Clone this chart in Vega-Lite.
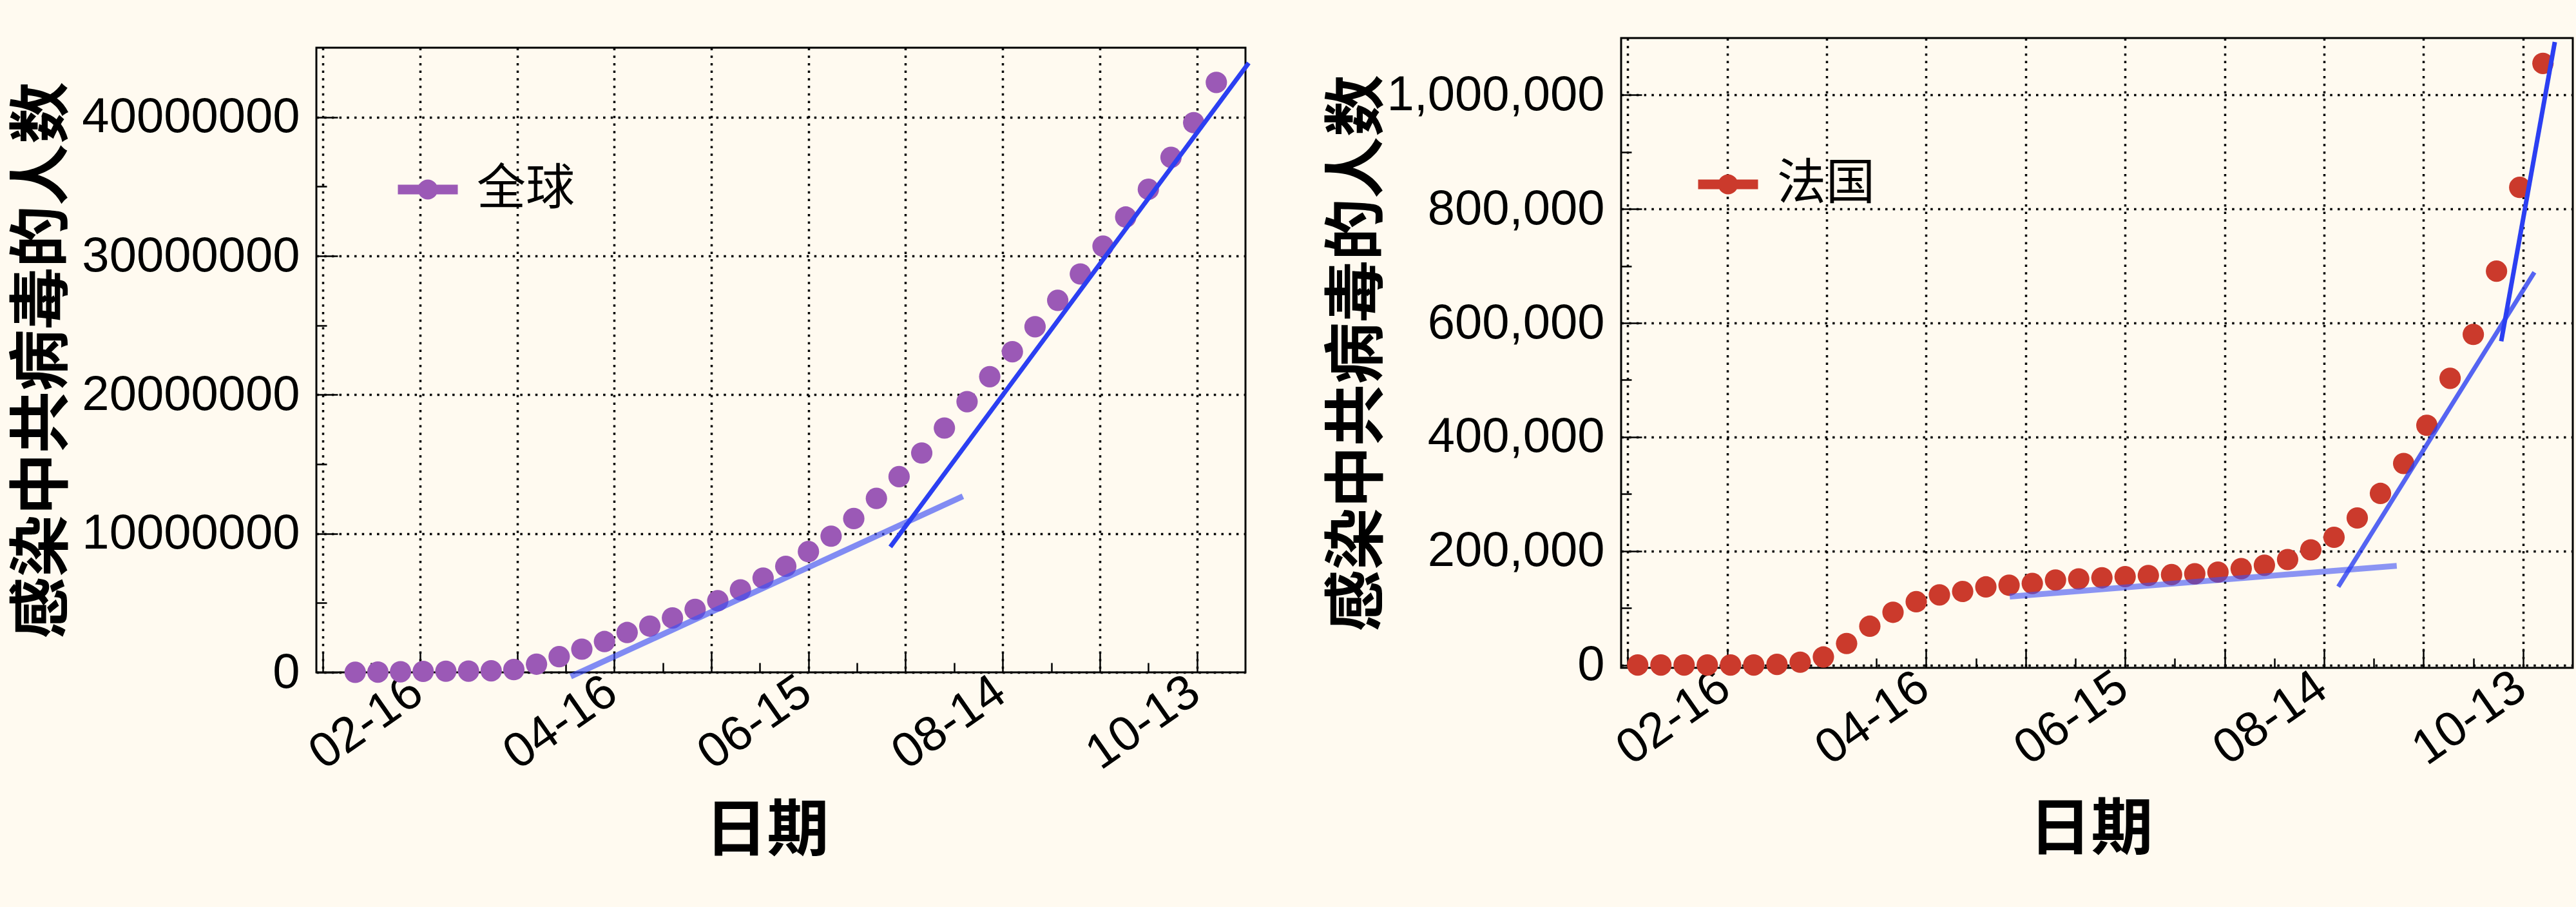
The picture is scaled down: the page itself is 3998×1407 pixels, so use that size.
{
  "$schema": "https://vega.github.io/schema/vega-lite/v6.json",
  "background": "#fffaf0",
  "padding": {"left": 16, "top": 49, "right": 20, "bottom": 68},
  "spacing": 103,
  "config": {"view": {"stroke": "black", "strokeWidth": 3}},
  "resolve": {"scale": {"color": "independent"}, "legend": {"color": "independent"}},
  "datasets": {
    "world": [
      {"date": "2020-01-27", "cases": 3000, "region": "全球"},
      {"date": "2020-02-03", "cases": 20000, "region": "全球"},
      {"date": "2020-02-10", "cases": 43000, "region": "全球"},
      {"date": "2020-02-17", "cases": 71000, "region": "全球"},
      {"date": "2020-02-24", "cases": 80000, "region": "全球"},
      {"date": "2020-03-02", "cases": 90000, "region": "全球"},
      {"date": "2020-03-09", "cases": 112000, "region": "全球"},
      {"date": "2020-03-16", "cases": 200000, "region": "全球"},
      {"date": "2020-03-23", "cases": 590000, "region": "全球"},
      {"date": "2020-03-30", "cases": 1130000, "region": "全球"},
      {"date": "2020-04-06", "cases": 1670000, "region": "全球"},
      {"date": "2020-04-13", "cases": 2220000, "region": "全球"},
      {"date": "2020-04-20", "cases": 2870000, "region": "全球"},
      {"date": "2020-04-27", "cases": 3330000, "region": "全球"},
      {"date": "2020-05-04", "cases": 3920000, "region": "全球"},
      {"date": "2020-05-11", "cases": 4540000, "region": "全球"},
      {"date": "2020-05-18", "cases": 5160000, "region": "全球"},
      {"date": "2020-05-25", "cases": 5940000, "region": "全球"},
      {"date": "2020-06-01", "cases": 6790000, "region": "全球"},
      {"date": "2020-06-08", "cases": 7640000, "region": "全球"},
      {"date": "2020-06-15", "cases": 8700000, "region": "全球"},
      {"date": "2020-06-22", "cases": 9810000, "region": "全球"},
      {"date": "2020-06-29", "cases": 11080000, "region": "全球"},
      {"date": "2020-07-06", "cases": 12530000, "region": "全球"},
      {"date": "2020-07-13", "cases": 14100000, "region": "全球"},
      {"date": "2020-07-20", "cases": 15800000, "region": "全球"},
      {"date": "2020-07-27", "cases": 17600000, "region": "全球"},
      {"date": "2020-08-03", "cases": 19500000, "region": "全球"},
      {"date": "2020-08-10", "cases": 21300000, "region": "全球"},
      {"date": "2020-08-17", "cases": 23100000, "region": "全球"},
      {"date": "2020-08-24", "cases": 24900000, "region": "全球"},
      {"date": "2020-08-31", "cases": 26800000, "region": "全球"},
      {"date": "2020-09-07", "cases": 28700000, "region": "全球"},
      {"date": "2020-09-14", "cases": 30700000, "region": "全球"},
      {"date": "2020-09-21", "cases": 32800000, "region": "全球"},
      {"date": "2020-09-28", "cases": 34800000, "region": "全球"},
      {"date": "2020-10-05", "cases": 37100000, "region": "全球"},
      {"date": "2020-10-12", "cases": 39600000, "region": "全球"},
      {"date": "2020-10-19", "cases": 42500000, "region": "全球"}
    ],
    "world_fit": [
      {"seg": "a", "date": "2020-04-02T14:00:00Z", "cases": -300000},
      {"seg": "a", "date": "2020-08-01T17:00:00Z", "cases": 12680000},
      {"seg": "b", "date": "2020-07-10T07:00:00Z", "cases": 9040000},
      {"seg": "b", "date": "2020-10-29T00:00:00Z", "cases": 43900000}
    ],
    "france": [
      {"date": "2020-01-20", "cases": 0, "region": "法国"},
      {"date": "2020-01-27", "cases": 3, "region": "法国"},
      {"date": "2020-02-03", "cases": 6, "region": "法国"},
      {"date": "2020-02-10", "cases": 11, "region": "法国"},
      {"date": "2020-02-17", "cases": 12, "region": "法国"},
      {"date": "2020-02-24", "cases": 12, "region": "法国"},
      {"date": "2020-03-02", "cases": 1100, "region": "法国"},
      {"date": "2020-03-09", "cases": 4900, "region": "法国"},
      {"date": "2020-03-16", "cases": 14000, "region": "法国"},
      {"date": "2020-03-23", "cases": 37700, "region": "法国"},
      {"date": "2020-03-30", "cases": 68000, "region": "法国"},
      {"date": "2020-04-06", "cases": 92500, "region": "法国"},
      {"date": "2020-04-13", "cases": 111000, "region": "法国"},
      {"date": "2020-04-20", "cases": 123000, "region": "法国"},
      {"date": "2020-04-27", "cases": 129000, "region": "法国"},
      {"date": "2020-05-04", "cases": 137000, "region": "法国"},
      {"date": "2020-05-11", "cases": 140000, "region": "法国"},
      {"date": "2020-05-18", "cases": 143000, "region": "法国"},
      {"date": "2020-05-25", "cases": 149000, "region": "法国"},
      {"date": "2020-06-01", "cases": 151000, "region": "法国"},
      {"date": "2020-06-08", "cases": 153000, "region": "法国"},
      {"date": "2020-06-15", "cases": 155000, "region": "法国"},
      {"date": "2020-06-22", "cases": 157000, "region": "法国"},
      {"date": "2020-06-29", "cases": 158500, "region": "法国"},
      {"date": "2020-07-06", "cases": 160000, "region": "法国"},
      {"date": "2020-07-13", "cases": 163000, "region": "法国"},
      {"date": "2020-07-20", "cases": 169000, "region": "法国"},
      {"date": "2020-07-27", "cases": 175000, "region": "法国"},
      {"date": "2020-08-03", "cases": 185000, "region": "法国"},
      {"date": "2020-08-10", "cases": 202000, "region": "法国"},
      {"date": "2020-08-17", "cases": 224000, "region": "法国"},
      {"date": "2020-08-24", "cases": 258000, "region": "法国"},
      {"date": "2020-08-31", "cases": 301000, "region": "法国"},
      {"date": "2020-09-07", "cases": 353500, "region": "法国"},
      {"date": "2020-09-14", "cases": 420500, "region": "法国"},
      {"date": "2020-09-21", "cases": 503000, "region": "法国"},
      {"date": "2020-09-28", "cases": 580000, "region": "法国"},
      {"date": "2020-10-05", "cases": 691000, "region": "法国"},
      {"date": "2020-10-12", "cases": 838000, "region": "法国"},
      {"date": "2020-10-19", "cases": 1055500, "region": "法国"}
    ],
    "france_fit": [
      {"seg": "a", "date": "2020-05-11T05:00:00Z", "cases": 120000},
      {"seg": "a", "date": "2020-09-04T22:00:00Z", "cases": 174000},
      {"seg": "b", "date": "2020-08-18T07:00:00Z", "cases": 137400},
      {"seg": "b", "date": "2020-10-16T10:00:00Z", "cases": 689000},
      {"seg": "c", "date": "2020-10-06T10:00:00Z", "cases": 568000},
      {"seg": "c", "date": "2020-10-22T14:00:00Z", "cases": 1093000}
    ]
  },
  "hconcat": [
    {
      "spacing": 12,
      "vconcat": [
        {
          "width": 1,
          "height": 1,
          "view": {"stroke": null},
          "data": {"values": []},
          "mark": {"type": "point", "opacity": 0},
          "encoding": {}
        },
        {
          "width": 1442,
          "height": 969,
          "resolve": {"axis": {"x": "independent", "y": "independent"}},
          "layer": [
            {
              "data": {"name": "world"},
              "mark": {"type": "point", "filled": true, "size": 1100, "opacity": 1},
              "encoding": {
                "x": {
                  "field": "date", "type": "temporal",
                  "scale": {"type": "utc", "domain": [{"year": 2020, "month": 1, "date": 15, "utc": true}, {"year": 2020, "month": 10, "date": 28, "utc": true}]},
                  "axis": {
                    "orient": "bottom",
                    "values": [
                      {"year": 2020, "month": 1, "date": 17, "utc": true},
                      {"year": 2020, "month": 2, "date": 16, "utc": true},
                      {"year": 2020, "month": 3, "date": 17, "utc": true},
                      {"year": 2020, "month": 4, "date": 16, "utc": true},
                      {"year": 2020, "month": 5, "date": 16, "utc": true},
                      {"year": 2020, "month": 6, "date": 15, "utc": true},
                      {"year": 2020, "month": 7, "date": 15, "utc": true},
                      {"year": 2020, "month": 8, "date": 14, "utc": true},
                      {"year": 2020, "month": 9, "date": 13, "utc": true},
                      {"year": 2020, "month": 10, "date": 13, "utc": true}
                    ],
                    "labelExpr": "indexof(['02-16','04-16','06-15','08-14','10-13'], utcFormat(datum.value, '%m-%d')) >= 0 ? utcFormat(datum.value, '%m-%d') : ''",
                    "labelAngle": -35, "labelAlign": "right", "labelBaseline": "middle",
                    "labelFont": "Liberation Sans", "labelFontSize": 76, "labelColor": "black", "labelLimit": 2000,
                    "labelPadding": 52, "labelOffset": -4, "labelOverlap": false, "labelFlush": false, "labelBound": false,
                    "tickSize": -30, "tickWidth": 2.5, "tickColor": "black",
                    "grid": true, "gridColor": "black", "gridDash": [3.5, 8.2], "gridWidth": 3.5, "gridOpacity": 1,
                    "domain": false, "minExtent": 170, "maxExtent": 170,
                    "title": "日期", "titleFont": "Noto Sans CJK SC", "titleFontSize": 96, "titleFontWeight": "bold", "titleColor": "black", "titlePadding": 29, "titleX": 699
                  }
                },
                "y": {
                  "field": "cases", "type": "quantitative",
                  "scale": {"domain": [0, 45000000], "nice": false, "zero": false},
                  "axis": {
                    "orient": "left",
                    "values": [0, 10000000, 20000000, 30000000, 40000000],
                    "format": "d",
                    "labelFont": "Liberation Sans", "labelFontSize": 76, "labelColor": "black", "labelLimit": 2000,
                    "labelPadding": 59, "labelOverlap": false, "labelFlush": false, "labelBound": false,
                    "tickSize": -33, "tickWidth": 2.5, "tickColor": "black",
                    "grid": true, "gridColor": "black", "gridDash": [3.5, 8.2], "gridWidth": 3.5, "gridOpacity": 1,
                    "domain": false, "minExtent": 367, "maxExtent": 367,
                    "title": "感染中共病毒的人数", "titleFont": "Noto Sans CJK SC", "titleFontSize": 96, "titleFontWeight": "bold", "titleColor": "black", "titlePadding": 9
                  }
                },
                "color": {
                  "field": "region", "type": "nominal",
                  "scale": {"domain": ["全球"], "range": ["#9b59b6"]},
                  "legend": {
                    "orient": "none", "legendX": 135, "legendY": 197, "title": null, "padding": 0,
                    "symbolType": "M-1.5,-0.24L1.5,-0.24L1.5,0.24L-1.5,0.24Z M-0.5,0A0.5,0.5,0,1,1,0.5,0A0.5,0.5,0,1,1,-0.5,0Z",
                    "symbolSize": 3844, "symbolStrokeWidth": 0, "symbolOpacity": 1,
                    "labelFont": "Noto Sans CJK SC", "labelFontSize": 76, "labelColor": "black", "labelOffset": 38, "labelLimit": 2000
                  }
                }
              }
            },
            {
              "data": {"name": "world_fit"},
              "transform": [{"filter": "datum.seg == 'a'"}],
              "mark": {"type": "line", "color": "#3d50f5", "strokeWidth": 9, "opacity": 0.65},
              "encoding": {
                "x": {
                  "field": "date", "type": "temporal",
                  "axis": {
                    "orient": "bottom",
                    "values": [
                      {"year": 2020, "month": 2, "date": 1, "utc": true},
                      {"year": 2020, "month": 3, "date": 2, "utc": true},
                      {"year": 2020, "month": 4, "date": 1, "utc": true},
                      {"year": 2020, "month": 5, "date": 1, "utc": true},
                      {"year": 2020, "month": 5, "date": 31, "utc": true},
                      {"year": 2020, "month": 6, "date": 30, "utc": true},
                      {"year": 2020, "month": 7, "date": 30, "utc": true},
                      {"year": 2020, "month": 8, "date": 29, "utc": true},
                      {"year": 2020, "month": 9, "date": 28, "utc": true}
                    ],
                    "labels": false, "grid": false, "domain": false, "title": null,
                    "tickSize": -15, "tickWidth": 2.5, "tickColor": "black", "minExtent": 0, "maxExtent": 0
                  }
                },
                "y": {
                  "field": "cases", "type": "quantitative",
                  "axis": {
                    "orient": "left",
                    "values": [5000000, 15000000, 25000000, 35000000],
                    "labels": false, "grid": false, "domain": false, "title": null,
                    "tickSize": -16, "tickWidth": 2.5, "tickColor": "black", "minExtent": 0, "maxExtent": 0
                  }
                }
              }
            },
            {
              "data": {"name": "world_fit"},
              "transform": [{"filter": "datum.seg == 'b'"}],
              "mark": {"type": "line", "color": "#2b3ff2", "strokeWidth": 7, "opacity": 1},
              "encoding": {
                "x": {"field": "date", "type": "temporal", "axis": null},
                "y": {"field": "cases", "type": "quantitative", "axis": null}
              }
            }
          ]
        }
      ]
    },
    {
      "width": 1477,
      "height": 977,
      "resolve": {"axis": {"x": "independent", "y": "independent"}},
      "layer": [
        {
          "data": {"name": "france"},
          "mark": {"type": "point", "filled": true, "size": 1100, "opacity": 1},
          "encoding": {
            "x": {
              "field": "date", "type": "temporal",
              "scale": {"type": "utc", "domain": [{"year": 2020, "month": 1, "date": 15, "utc": true}, {"year": 2020, "month": 10, "date": 28, "utc": true}]},
              "axis": {
                "orient": "bottom",
                "values": [
                  {"year": 2020, "month": 1, "date": 17, "utc": true},
                  {"year": 2020, "month": 2, "date": 16, "utc": true},
                  {"year": 2020, "month": 3, "date": 17, "utc": true},
                  {"year": 2020, "month": 4, "date": 16, "utc": true},
                  {"year": 2020, "month": 5, "date": 16, "utc": true},
                  {"year": 2020, "month": 6, "date": 15, "utc": true},
                  {"year": 2020, "month": 7, "date": 15, "utc": true},
                  {"year": 2020, "month": 8, "date": 14, "utc": true},
                  {"year": 2020, "month": 9, "date": 13, "utc": true},
                  {"year": 2020, "month": 10, "date": 13, "utc": true}
                ],
                "labelExpr": "indexof(['02-16','04-16','06-15','08-14','10-13'], utcFormat(datum.value, '%m-%d')) >= 0 ? utcFormat(datum.value, '%m-%d') : ''",
                "labelAngle": -35, "labelAlign": "right", "labelBaseline": "middle",
                "labelFont": "Liberation Sans", "labelFontSize": 76, "labelColor": "black", "labelLimit": 2000,
                "labelPadding": 52, "labelOffset": -4, "labelOverlap": false, "labelFlush": false, "labelBound": false,
                "tickSize": -30, "tickWidth": 2.5, "tickColor": "black",
                "grid": true, "gridColor": "black", "gridDash": [3.5, 8.2], "gridWidth": 3.5, "gridOpacity": 1,
                "domain": false, "minExtent": 170, "maxExtent": 170,
                "title": "日期", "titleFont": "Noto Sans CJK SC", "titleFontSize": 96, "titleFontWeight": "bold", "titleColor": "black", "titlePadding": 34, "titleX": 729
              }
            },
            "y": {
              "field": "cases", "type": "quantitative",
              "scale": {"domain": [-5000, 1100000], "nice": false, "zero": false},
              "axis": {
                "orient": "left",
                "values": [0, 200000, 400000, 600000, 800000, 1000000],
                "format": ",d",
                "labelFont": "Liberation Sans", "labelFontSize": 76, "labelColor": "black", "labelLimit": 2000,
                "labelPadding": 58, "labelOverlap": false, "labelFlush": false, "labelBound": false,
                "tickSize": -32, "tickWidth": 2.5, "tickColor": "black",
                "grid": true, "gridColor": "black", "gridDash": [3.5, 8.2], "gridWidth": 3.5, "gridOpacity": 1,
                "domain": false, "minExtent": 355, "maxExtent": 355,
                "title": "感染中共病毒的人数", "titleFont": "Noto Sans CJK SC", "titleFontSize": 96, "titleFontWeight": "bold", "titleColor": "black", "titlePadding": 5
              }
            },
            "color": {
              "field": "region", "type": "nominal",
              "scale": {"domain": ["法国"], "range": ["#cb3a2c"]},
              "legend": {
                "orient": "none", "legendX": 128, "legendY": 189, "title": null, "padding": 0,
                "symbolType": "M-1.5,-0.24L1.5,-0.24L1.5,0.24L-1.5,0.24Z M-0.5,0A0.5,0.5,0,1,1,0.5,0A0.5,0.5,0,1,1,-0.5,0Z",
                "symbolSize": 3844, "symbolStrokeWidth": 0, "symbolOpacity": 1,
                "labelFont": "Noto Sans CJK SC", "labelFontSize": 76, "labelColor": "black", "labelOffset": 38, "labelLimit": 2000
              }
            }
          }
        },
        {
          "data": {"name": "france_fit"},
          "transform": [{"filter": "datum.seg == 'a'"}],
          "mark": {"type": "line", "color": "#3d50f5", "strokeWidth": 9, "opacity": 0.6},
          "encoding": {
            "x": {
              "field": "date", "type": "temporal",
              "axis": {
                "orient": "bottom",
                "values": [
                  {"year": 2020, "month": 2, "date": 1, "utc": true},
                  {"year": 2020, "month": 3, "date": 2, "utc": true},
                  {"year": 2020, "month": 4, "date": 1, "utc": true},
                  {"year": 2020, "month": 5, "date": 1, "utc": true},
                  {"year": 2020, "month": 5, "date": 31, "utc": true},
                  {"year": 2020, "month": 6, "date": 30, "utc": true},
                  {"year": 2020, "month": 7, "date": 30, "utc": true},
                  {"year": 2020, "month": 8, "date": 29, "utc": true},
                  {"year": 2020, "month": 9, "date": 28, "utc": true}
                ],
                "labels": false, "grid": false, "domain": false, "title": null,
                "tickSize": -15, "tickWidth": 2.5, "tickColor": "black", "minExtent": 0, "maxExtent": 0
              }
            },
            "y": {
              "field": "cases", "type": "quantitative",
              "axis": {
                "orient": "left",
                "values": [100000, 300000, 500000, 700000, 900000],
                "labels": false, "grid": false, "domain": false, "title": null,
                "tickSize": -16, "tickWidth": 2.5, "tickColor": "black", "minExtent": 0, "maxExtent": 0
              }
            }
          }
        },
        {
          "data": {"name": "france_fit"},
          "transform": [{"filter": "datum.seg == 'b'"}],
          "mark": {"type": "line", "color": "#2b3ff2", "strokeWidth": 7, "opacity": 0.8},
          "encoding": {
            "x": {"field": "date", "type": "temporal", "axis": null},
            "y": {"field": "cases", "type": "quantitative", "axis": null}
          }
        },
        {
          "data": {"name": "france_fit"},
          "transform": [{"filter": "datum.seg == 'c'"}],
          "mark": {"type": "line", "color": "#2b3ff2", "strokeWidth": 7, "opacity": 1},
          "encoding": {
            "x": {"field": "date", "type": "temporal", "axis": null},
            "y": {"field": "cases", "type": "quantitative", "axis": null}
          }
        }
      ]
    }
  ]
}
